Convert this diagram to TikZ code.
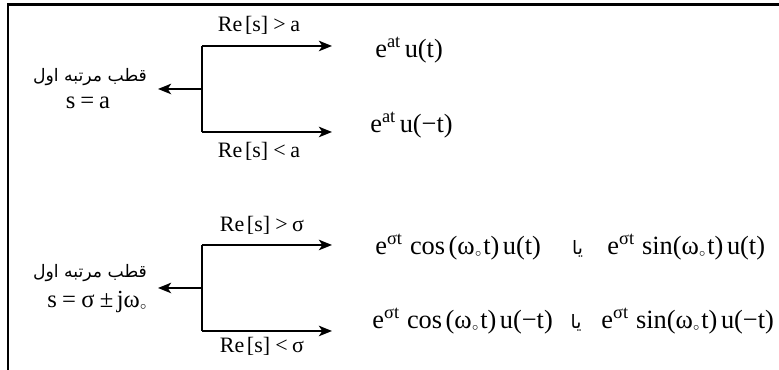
\documentclass[tikz,border=0pt]{standalone}
\usepackage{fontspec}
\setmainfont{Liberation Serif}
\newfontfamily\arabicfont[Script=Arabic]{DejaVu Sans}
\TeXXeTstate=1
\usepackage{tikz}
\usetikzlibrary{arrows.meta,positioning}

\newcommand{\expn}[1]{\raisebox{5.8pt}{\fontsize{10.5}{10}\selectfont #1}\,}
\newcommand{\wnot}{ω\raisebox{-1pt}{\fontsize{6.5}{6}\selectfont$\circ$}}

\tikzset{
    arr/.style={-{Stealth[length=7.5pt,width=6pt,inset=2pt]}, line width=1pt},
    branch/.style={line width=1pt},
    cond/.style={inner sep=0pt, font=\fontsize{12.5}{14}\selectfont},
    pole/.style={inner sep=0pt, font=\fontsize{14}{16}\selectfont},
    poletxt/.style={inner sep=0pt, font=\fontsize{9.8}{12}\arabicfont},
    sig/.style={inner sep=0pt, anchor=base west, font=\fontsize{15}{17}\selectfont},
    ortxt/.style={inner sep=0pt, anchor=base, font=\fontsize{10.5}{12}\arabicfont}
}

\begin{document}
\begin{tikzpicture}
    \useasboundingbox (0,0) rectangle (15.58,7.4);
    \draw[line width=1.3pt] (0.156,0) -- (0.156,7.31) -- (15.58,7.31);

    \node[poletxt] (fa1) at (1.8,5.86) {\beginR قطب مرتبه اول\endR};
    \node[pole] (p1) at (1.76,5.34) {s\hspace{2.8pt}=\hspace{2.8pt}a};
    \coordinate (j1) at (4.04,5.62);
    \coordinate (t1) at (4.04,6.48);
    \coordinate (b1) at (4.04,4.76);
    \coordinate (l1) at (3.16,5.62);
    \coordinate (r1) at (6.64,6.48);
    \coordinate (s1) at (6.64,4.76);
    \draw[branch] (t1) -- (b1);
    \draw[arr] (j1) -- (l1);
    \draw[arr] (t1) -- (r1);
    \draw[arr] (b1) -- (s1);
    \node[cond] (g1) at (5.18,6.9) {Re\hspace{1.5pt}[s]\hspace{3pt}>\hspace{2.5pt}a};
    \node[cond] (k1) at (5.18,4.38) {Re\hspace{1.5pt}[s]\hspace{3pt}<\hspace{2.5pt}a};
    \node[sig] (f1) at (7.5,6.24) {e\expn{at}u(t)};
    \node[sig] (f2) at (7.4,4.74) {e\expn{at}u(−t)};

    \node[poletxt] (fa2) at (1.8,1.94) {\beginR قطب مرتبه اول\endR};
    \node[pole] (p2) at (1.94,1.36) {s\hspace{3pt}=\hspace{3pt}σ\hspace{3pt}±\hspace{2pt}j\wnot};
    \coordinate (j2) at (4.04,1.64);
    \coordinate (t2) at (4.04,2.5);
    \coordinate (b2) at (4.04,0.78);
    \coordinate (l2) at (3.16,1.64);
    \coordinate (r2) at (6.64,2.5);
    \coordinate (s2) at (6.64,0.78);
    \draw[branch] (t2) -- (b2);
    \draw[arr] (j2) -- (l2);
    \draw[arr] (t2) -- (r2);
    \draw[arr] (b2) -- (s2);
    \node[cond] (g2) at (5.24,2.9) {Re\hspace{1.5pt}[s]\hspace{3pt}>\hspace{2.5pt}σ};
    \node[cond] (k2) at (5.24,0.48) {Re\hspace{1.5pt}[s]\hspace{3pt}<\hspace{2.5pt}σ};
    \node[sig] (f3) at (7.5,2.3) {e\expn{σt}\hspace{2pt}cos\hspace{2pt}(\wnot\hspace{1pt}t)\hspace{2pt}u(t)};
    \node[ortxt] (o1) at (11.55,2.3) {\beginR يا\endR};
    \node[sig] (h1) at (12.14,2.3) {e\expn{σt}\hspace{2pt}sin(\wnot\hspace{1pt}t)\hspace{2pt}u(t)};
    \node[sig] (f4) at (7.44,0.82) {e\expn{σt}\hspace{2pt}cos\hspace{2pt}(\wnot\hspace{1pt}t)\hspace{2pt}u(−t)};
    \node[ortxt] (o2) at (11.52,0.82) {\beginR يا\endR};
    \node[sig] (h2) at (12.02,0.82) {e\expn{σt}\hspace{2pt}sin(\wnot\hspace{1pt}t)\hspace{2pt}u(−t)};
\end{tikzpicture}
\end{document}
